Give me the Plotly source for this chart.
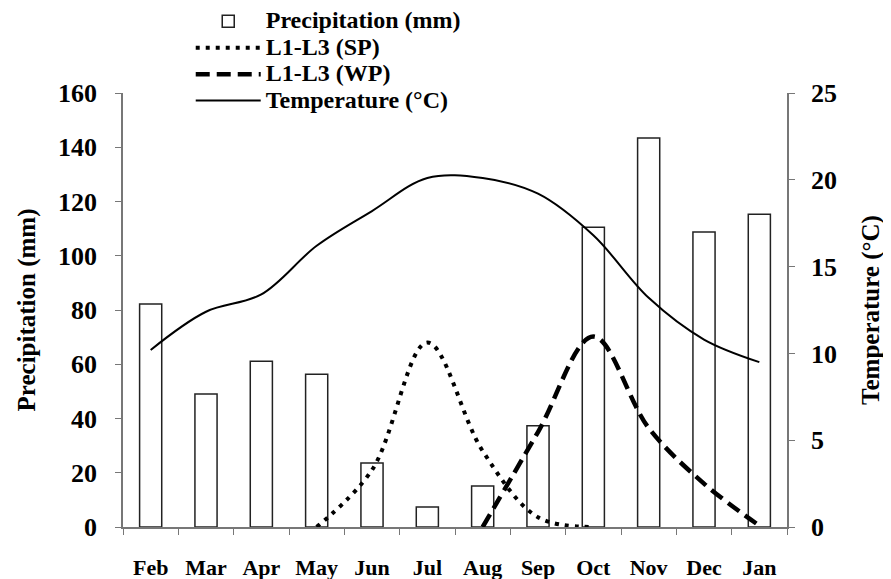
import plotly.graph_objects as go

months = ["Feb", "Mar", "Apr", "May", "Jun", "Jul", "Aug", "Sep", "Oct", "Nov", "Dec", "Jan"]
precip = [82.2, 49.0, 61.1, 56.3, 23.6, 7.4, 15.1, 37.3, 110.5, 143.4, 108.8, 115.3]
sp = [None, None, None, 0, 21, 68, 28, 3.6, 0, None, None, None]
wp = [None, None, None, None, None, None, 0, 35, 70.2, 36.5, 16.0, 0.5]
temp = [10.2, 12.4, 13.4, 16.2, 18.2, 20.1, 20.1, 19.2, 16.8, 13.2, 10.8, 9.5]

FONT = "Liberation Serif"

def lg(t):
    return '<span style="font-size:24px"><b>%s</b></span>' % t

fig = go.Figure()
fig.add_trace(go.Bar(x=months, y=precip, name=lg("Precipitation (mm)"),
                     marker=dict(color="white", line=dict(color="#222", width=1.5)),
                     width=0.4))
fig.add_trace(go.Scatter(x=months, y=sp, name=lg("L1-L3 (SP)"), mode="lines",
                         line=dict(color="black", width=4, dash="4px,6px", shape="spline", smoothing=1.0)))
fig.add_trace(go.Scatter(x=months, y=wp, name=lg("L1-L3 (WP)"), mode="lines",
                         line=dict(color="black", width=4.5, dash="14px,7px", shape="spline", smoothing=1.0)))
fig.add_trace(go.Scatter(x=months, y=temp, name=lg("Temperature (°C)"), mode="lines", yaxis="y2",
                         line=dict(color="black", width=2, shape="spline", smoothing=1.0)))

fig.update_layout(
    width=883, height=571,
    margin=dict(l=115, r=104, t=85, b=52, autoexpand=False),
    plot_bgcolor="white", paper_bgcolor="white",
    font=dict(family=FONT, color="black"),
    showlegend=True,
    legend=dict(x=0.102, y=1.207, xanchor="left", yanchor="top",
                font=dict(family=FONT, size=18, color="black"),
                bgcolor="rgba(0,0,0,0)", itemwidth=65, tracegroupgap=0),
    xaxis=dict(range=[-0.5, 11.5], showline=True, linecolor="#777", linewidth=1.5,
               ticks="outside", tickson="boundaries", ticklen=6, tickcolor="#777",
               tickfont=dict(family=FONT, size=22, color="black"),
               tickvals=months, ticktext=["<b>%s</b>" % m for m in months],
               ticklabelstandoff=20, showgrid=False, zeroline=False),
    yaxis=dict(range=[0, 160], dtick=20, showline=True, linecolor="#777", linewidth=1.5,
               ticks="outside", ticklen=6, tickcolor="#777",
               tickfont=dict(family=FONT, size=26, color="black"),
               tickprefix="<b>", ticksuffix="</b>", ticklabelstandoff=13,
               showgrid=False, zeroline=False,
               title=dict(text="<b>Precipitation (mm)</b>", font=dict(family=FONT, size=25), standoff=15)),
    yaxis2=dict(range=[0, 25], dtick=5, overlaying="y", side="right", showline=True,
                linecolor="#777", linewidth=1.5, ticks="outside", ticklen=6, tickcolor="#777",
                tickfont=dict(family=FONT, size=26, color="black"),
                tickprefix="<b>", ticksuffix="</b>", ticklabelstandoff=11,
                showgrid=False, zeroline=False,
                title=dict(text="<b>Temperature (°C)</b>", font=dict(family=FONT, size=25), standoff=26)),
)

fig.write_html("out.html")
